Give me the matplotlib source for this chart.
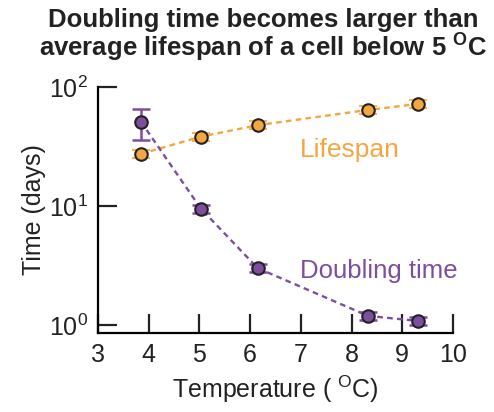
import matplotlib
matplotlib.use("Agg")
import matplotlib.pyplot as plt
import numpy as np

plt.rcParams['font.family'] = ['Liberation Sans', 'DejaVu Sans']
plt.rcParams['mathtext.fontset'] = 'custom'
plt.rcParams['mathtext.rm'] = 'Liberation Sans'
plt.rcParams['mathtext.bf'] = 'Liberation Sans:bold'
plt.rcParams['mathtext.default'] = 'regular'

# data
temp_life = [3.85, 5.03, 6.15, 8.33, 9.32]
lifespan = [27.4, 38.2, 47.7, 64.1, 72.0]
life_err = [2.2, 3.0, 3.8, 5.1, 5.7]

temp_dbl = [3.85, 5.03, 6.15, 8.33, 9.32]
doubling = [51.0, 9.5, 3.0, 1.19, 1.08]
dbl_err_lo = [15.1, 0.75, 0.24, 0.09, 0.08]
dbl_err_hi = [14.0, 0.75, 0.24, 0.09, 0.08]

orange = '#F4A640'
purple = '#7D4E9E'

fig = plt.figure(figsize=(4.94, 4.12), dpi=100)
ax = fig.add_axes([0.198, 0.192, 0.719, 0.597])

# dashed connecting lines
ax.plot(temp_life, lifespan, ls=(0, (2.4, 1.8)), lw=1.7, color=orange, zorder=2)
ax.plot(temp_dbl, doubling, ls=(0, (2.4, 1.8)), lw=1.7, color=purple, zorder=2)

# error bars
ax.errorbar(temp_life, lifespan, yerr=life_err, fmt='none', ecolor=orange,
            elinewidth=1.5, capsize=6.5, capthick=1.5, alpha=0.85, zorder=3)
ax.errorbar(temp_dbl, doubling, yerr=[dbl_err_lo, dbl_err_hi], fmt='none',
            ecolor=purple, elinewidth=1.8, capsize=6.5, capthick=1.8, zorder=3)

# markers
ax.plot(temp_life, lifespan, 'o', ms=9, mfc=orange, mec='#222222', mew=1.5, zorder=4)
ax.plot(temp_dbl, doubling, 'o', ms=9, mfc=purple, mec='#222222', mew=1.5, zorder=4)

ax.set_yscale('log')
ax.set_xlim(3, 10)
ax.set_ylim(0.857, 100)
ax.set_xticks(range(3, 11))
ax.set_yticks([1, 10, 100])
ax.yaxis.set_minor_locator(matplotlib.ticker.NullLocator())

for s in ['top', 'right']:
    ax.spines[s].set_visible(False)
for s in ['left', 'bottom']:
    ax.spines[s].set_linewidth(1.6)
ax.tick_params(axis='both', which='major', direction='in', length=14,
               width=1.6, labelsize=18, pad=7, colors='#222222')

ax.set_xlabel('Temperature ( $^{O}$C)', fontsize=18, labelpad=5, color='#222222')
ax.set_ylabel('Time (days)', fontsize=18, labelpad=2, color='#222222')

ax.text(6.98, 37, 'Lifespan', fontsize=19, color=orange, va='top')
ax.text(6.98, 2.85, 'Doubling time', fontsize=18.5, color=purple, va='center')

fig.suptitle('Doubling time becomes larger than\naverage lifespan of a cell below 5 $^{\\mathbf{O}}$C',
             fontsize=18.5, fontweight='bold', x=0.533, y=0.98, linespacing=1.0,
             color='#222222')

plt.savefig('out.png', dpi=100)
